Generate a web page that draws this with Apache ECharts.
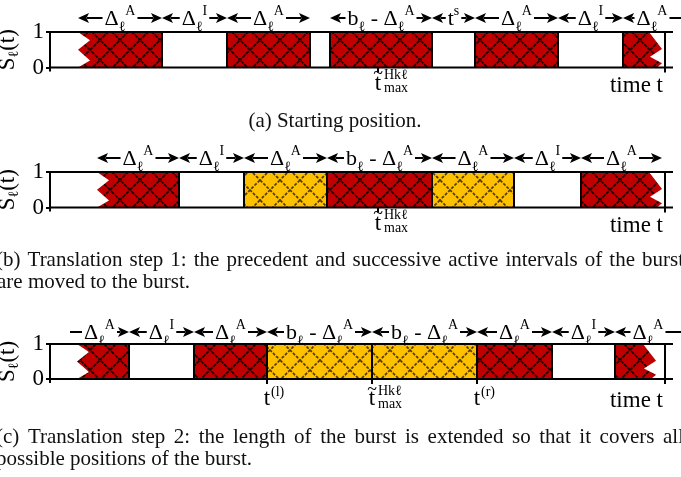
<!DOCTYPE html>
<html><head><meta charset="utf-8">
<script src="https://cdn.jsdelivr.net/npm/echarts@6/dist/echarts.min.js"></script>
<style>html,body{margin:0;padding:0;background:#fff;overflow:hidden}#c{width:681px;height:477px}</style>
</head><body><div id="c"></div>
<script>
// ================= DATA (time units along the axis) =================
const timeMax = 623;          // axis extent
const timeEnd = 615;          // end marker of the time axis
// intervals: [start, end, kind]  R = active (red), Y = moved/extended (yellow), < / > jagged end
const intervalsA = [[28,112,'R<'],[177,260,'R'],[280,382,'R'],[425,508,'R'],[573,612,'R>']];
const intervalsB = [[47,129,'R<'],[194,277,'Y'],[277,382,'R'],[382,464,'Y'],[531,612,'R>']];
const intervalsC = [[27,79,'R<'],[144,217,'R'],[217,322,'Y'],[322,427,'Y'],[427,502,'R'],[565,606,'R>']];
// dimension arrows: [start, end, label, heads]
const arrowsA = [[28,112,'A','<>'],[112,177,'I','<>'],[177,260,'A','<>'],[280,382,'B','<>'],[382,425,'S','<>'],[425,508,'A','<>'],[508,573,'I','<>'],[573,631,'A','<']];
const arrowsB = [[47,129,'A','<>'],[129,194,'I','<>'],[194,277,'A','<>'],[277,382,'B','<>'],[382,464,'A','<>'],[464,531,'I','<>'],[531,612,'A','<>']];
const arrowsC = [[20,79,'A','>'],[79,144,'I','<>'],[144,217,'A','<>'],[217,322,'B','<>'],[322,427,'B','<>'],[427,502,'A','<>'],[502,565,'I','<>'],[565,631,'A','<']];
// time-axis ticks: [time, label kind]
const ticksA = [[328,'tmax']];
const ticksB = [[328,'tmax']];
const ticksC = [[217,'tl'],[322,'tmax'],[427,'tr']];
const yTickLabels = ['0','1'];
const axisTitle = 'S{sub|ℓ}(t)';
const timeLabel = 'time t';
const captionA = '(a) Starting position.';
const captionB = ['(b) Translation step 1: the precedent and successive active intervals of the burst', 'are moved to the burst.'];
const captionC = ['(c) Translation step 2: the length of the burst is extended so that it covers all', 'possible positions of the burst.'];

// ================= STYLE / LAYOUT =================
const FONT = '"Liberation Serif","Times New Roman",serif';
const gridTop = [32, 172, 344];
const gridH = [35.5, 35.5, 35];
const arrowRise = [14, 14, 12];
const labelDrop = [15, 15, 19];

function makePattern(bg, line, dash){
  const c = document.createElement('canvas'); c.width = 20; c.height = 20;
  const g = c.getContext('2d');
  g.fillStyle = bg; g.fillRect(0,0,20,20);
  g.strokeStyle = line; g.lineWidth = 1.7;
  if (dash) g.setLineDash(dash);
  g.beginPath(); g.moveTo(-3,-3); g.lineTo(23,23); g.moveTo(23,-3); g.lineTo(-3,23); g.stroke();
  return {image: c, repeat: 'repeat'};
}
const redPat = makePattern('#c00000', 'rgba(10,0,0,0.9)', [4,1]);
const yelPat = makePattern('#ffc000', 'rgba(50,35,0,0.85)', [3,1.5]);

const mctx = document.createElement('canvas').getContext('2d');
function tw(text, size){ mctx.font = size + 'px ' + FONT; return mctx.measureText(text).width; }

const RICH = {
  b:   {fontFamily: FONT, fontSize: 22, lineHeight: 30, color: '#000'},
  sub: {fontFamily: FONT, fontSize: 14, lineHeight: 19, verticalAlign: 'bottom', color: '#000'},
  sup: {fontFamily: FONT, fontSize: 14, lineHeight: 14, verticalAlign: 'top', color: '#000'}
};
const LABELS = {
  A: [['Δ','b'],['ℓ','sub'],['A','sup']],
  I: [['Δ','b'],['ℓ','sub'],['I','sup']],
  B: [['b','b'],['ℓ','sub'],[' - Δ','b'],['ℓ','sub'],['A','sup']],
  S: [['t','b'],['s','sup']]
};
function labelText(k){ return LABELS[k].map(p => '{' + p[1] + '|' + p[0] + '}').join(''); }
function labelWidth(k){ return LABELS[k].reduce((s,p) => s + tw(p[0], RICH[p[1]].fontSize), 0); }

function intervalRender(list){
  return function(params, api){
    const d = list[params.dataIndex];
    const tl = api.coord([d[0], 1]), br = api.coord([d[1], 0]);
    const x0 = tl[0], y0 = tl[1], x1 = br[0], y1 = br[1], h = y1 - y0;
    const fill = d[2][0] === 'R' ? redPat : yelPat;
    let pts;
    if (d[2].indexOf('<') >= 0) {
      const j = 12;
      pts = [[x0,y0],[x1,y0],[x1,y1],[x0,y1],[x0+j,y0+0.8*h],[x0,y0+0.5*h],[x0+j,y0+0.23*h]];
    } else if (d[2].indexOf('>') >= 0) {
      pts = [[x0,y0],[x1-13,y0],[x1,y0+0.48*h],[x1-12,y0+0.7*h],[x1,y0+0.88*h],[x1-5,y1],[x0,y1]];
    } else {
      pts = [[x0,y0],[x1,y0],[x1,y1],[x0,y1]];
    }
    const ch = [{type:'polygon', shape:{points:pts}, style:{fill: fill}}];
    if (d[2].indexOf('<') < 0) ch.push({type:'line', shape:{x1:x0,y1:y0,x2:x0,y2:y1}, style:{stroke:'#000', lineWidth:2}});
    if (d[2].indexOf('>') < 0) ch.push({type:'line', shape:{x1:x1,y1:y0,x2:x1,y2:y1}, style:{stroke:'#000', lineWidth:2}});
    return {type:'group', children: ch};
  };
}

function arrowRender(list, gi){
  return function(params, api){
    const d = list[params.dataIndex];
    const p0 = api.coord([d[0], 1]), p1 = api.coord([d[1], 1]);
    const y = p0[1] - arrowRise[gi];
    const x0 = p0[0], x1 = p1[0], xc = (x0 + x1) / 2;
    const w = labelWidth(d[2]);
    const gap = 2, HL = 11, HW = 5;
    const hasL = d[3].indexOf('<') >= 0, hasR = d[3].indexOf('>') >= 0;
    const lEnd = xc - w/2 - gap, rStart = xc + w/2 + gap;
    const ls = hasL ? x0 + HL - 2 : x0, re = hasR ? x1 - HL + 2 : x1;
    const ch = [];
    const ln = {stroke:'#000', lineWidth:2};
    if (lEnd > ls) ch.push({type:'line', shape:{x1:ls,y1:y,x2:lEnd,y2:y}, style:ln});
    if (re > rStart) ch.push({type:'line', shape:{x1:rStart,y1:y,x2:re,y2:y}, style:ln});
    if (hasL) ch.push({type:'polygon', shape:{points:[[x0,y],[x0+HL,y-HW],[x0+HL-2.5,y],[x0+HL,y+HW]]}, style:{fill:'#000'}});
    if (hasR) ch.push({type:'polygon', shape:{points:[[x1,y],[x1-HL,y-HW],[x1-HL+2.5,y],[x1-HL,y+HW]]}, style:{fill:'#000'}});
    ch.push({type:'text', x: xc, y: y + 1.5, style:{text: labelText(d[2]), rich: RICH, align:'center', verticalAlign:'middle', fill:'#000'}});
    return {type:'group', children: ch};
  };
}

function txt(x, y, s, size, align){
  return {type:'text', x:x, y:y, style:{text:s, fontFamily:FONT, fontSize:size, fill:'#000', align: align || 'center', verticalAlign:'middle'}};
}

function tickRender(list, gi){
  return function(params, api){
    const d = list[params.dataIndex];
    const p = api.coord([d[0], 0]);
    const x = p[0], yb = p[1], yl = yb + labelDrop[gi];
    const ch = [{type:'line', shape:{x1:x,y1:yb,x2:x,y2:yb+5}, style:{stroke:'#000', lineWidth:2}}];
    if (d[1] === 'tmax') {
      ch.push(txt(x, yl + 1, 't', 23));
      ch.push(txt(x, yl - 8, '~', 18));
      ch.push(txt(x + 6, yl - 7, 'Hkℓ', 14, 'left'));
      ch.push(txt(x + 6, yl + 6, 'max', 14, 'left'));
    } else {
      ch.push(txt(x, yl + 1, 't', 23));
      ch.push(txt(x + 4, yl - 6, d[1] === 'tl' ? '(l)' : '(r)', 14, 'left'));
    }
    return {type:'group', children: ch};
  };
}

function frameRender(gi){
  return function(params, api){
    const tl = api.coord([0, 1]), br = api.coord([timeMax, 0]);
    const xe = api.coord([timeEnd, 0])[0];
    const x0 = tl[0], y0 = tl[1], x1 = br[0], y1 = br[1];
    const ln = {stroke:'#000', lineWidth:2};
    return {type:'group', children:[
      {type:'line', shape:{x1:x0-1,y1:y0,x2:x1,y2:y0}, style:ln},
      {type:'line', shape:{x1:x0-1,y1:y1,x2:x1,y2:y1}, style:ln},
      {type:'line', shape:{x1:x0,y1:y0-1,x2:x0,y2:y1+4}, style:ln},
      {type:'line', shape:{x1:xe,y1:y0-1,x2:xe,y2:y1+5}, style:ln},
      txt(xe - 2, y1 + labelDrop[gi] + 3, timeLabel, 23, 'right')
    ]};
  };
}

const panels = [[intervalsA, arrowsA, ticksA],[intervalsB, arrowsB, ticksB],[intervalsC, arrowsC, ticksC]];
const grids = [], xAxes = [], yAxes = [], series = [];
panels.forEach((pn, gi) => {
  grids.push({left: 50, top: gridTop[gi], width: 623, height: gridH[gi], containLabel: false, outerBoundsMode: 'none'});
  xAxes.push({gridIndex: gi, type:'value', min: 0, max: timeMax, show: false});
  yAxes.push({gridIndex: gi, type:'value', min: 0, max: 1, interval: 1,
    axisLine:{show:false}, splitLine:{show:false},
    axisTick:{show:true, length:4, lineStyle:{color:'#000', width:2}},
    axisLabel:{color:'#000', fontFamily:FONT, fontSize:23, margin:6, formatter: v => yTickLabels[v]},
    name: axisTitle, nameLocation:'middle', nameGap: 21, nameRotate: 90,
    nameTextStyle:{color:'#000', fontFamily:FONT, fontSize:23, lineHeight:28,
      rich:{sub:{fontFamily:FONT, fontSize:14, lineHeight:18, verticalAlign:'bottom', color:'#000'}}}
  });
  const common = {type:'custom', coordinateSystem:'cartesian2d', xAxisIndex: gi, yAxisIndex: gi, silent:true, animation:false, clip:false};
  series.push(Object.assign({}, common, {z: 2, renderItem: intervalRender(pn[0]), data: pn[0].map(d => [d[0], d[1]])}));
  series.push(Object.assign({}, common, {z: 3, renderItem: frameRender(gi), data: [[0, 0]]}));
  series.push(Object.assign({}, common, {z: 4, renderItem: arrowRender(pn[1], gi), data: pn[1].map(d => [d[0], d[1]])}));
  series.push(Object.assign({}, common, {z: 4, renderItem: tickRender(pn[2], gi), data: pn[2].map(d => [d[0], 0])}));
});

// captions
const CAP = 21;
function capText(x, y, s, align){
  return {type:'text', x:x, y:y, style:{text:s, fontFamily:FONT, fontSize:CAP, fill:'#111', align: align, textAlign: align, verticalAlign:'middle', textVerticalAlign:'middle'}};
}
function justify(line, L, R, y){
  const words = line.split(' ');
  const ws = words.map(w => tw(w, CAP));
  const sum = ws.reduce((a,b) => a + b, 0);
  const gap = (R - L - sum) / (words.length - 1);
  let x = L; const out = [];
  words.forEach((w, i) => { out.push(capText(x, y, w, 'left')); x += ws[i] + gap; });
  return out;
}
const graphics = [capText(335, 121, captionA, 'center')]
  .concat(justify(captionB[0], -4, 684, 260))
  .concat([capText(-3, 282, captionB[1], 'left')])
  .concat(justify(captionC[0], -4, 684, 437))
  .concat([capText(-4, 459, captionC[1], 'left')]);

const chart = echarts.init(document.getElementById('c'), null, {renderer:'canvas'});
chart.setOption({
  animation: false,
  backgroundColor: '#fff',
  grid: grids, xAxis: xAxes, yAxis: yAxes, series: series,
  graphic: graphics
});
</script></body></html>
